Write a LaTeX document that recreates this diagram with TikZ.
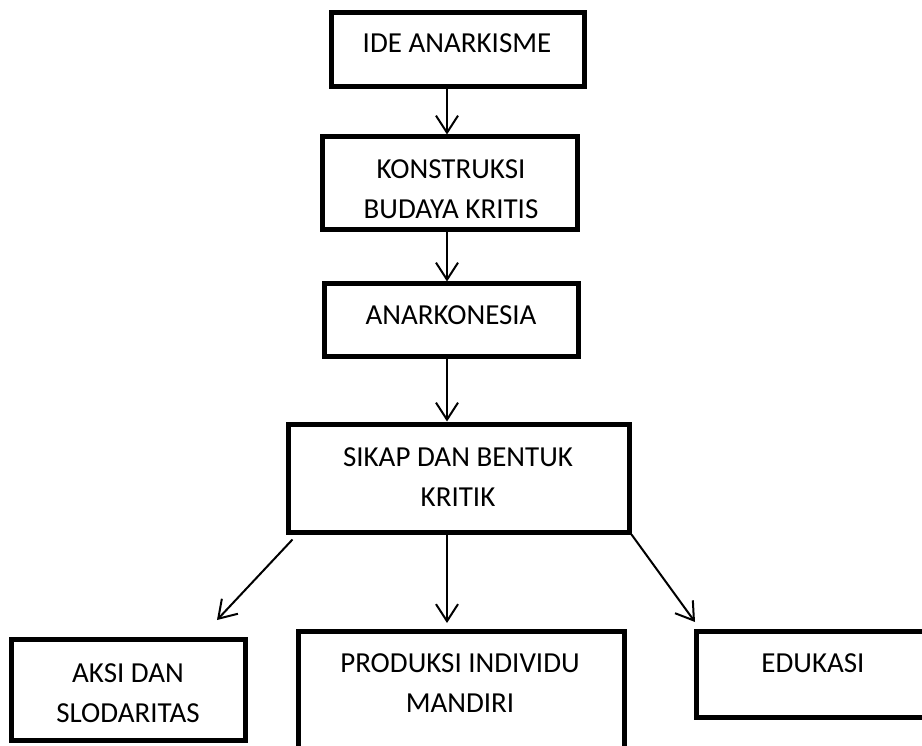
\documentclass[tikz,border=0pt]{standalone}
\usepackage{fontspec}
\setmainfont{Carlito}
\usetikzlibrary{arrows.meta,calc}
\tikzset{
  box/.style={draw=black, line width=5pt, rectangle, inner sep=0pt},
  lbl/.style={font=\fontsize{29}{40}\selectfont, align=center, anchor=base, inner sep=0pt},
  arr/.style={line width=2pt, -{Straight Barb[length=17pt, width=22pt]}}
}
\begin{document}
\begin{tikzpicture}[x=1pt, y=-1pt]
\useasboundingbox (0,0) rectangle (922,746);
\begin{scope}
\clip (0,0) rectangle (922,746);
% boxes (centerline coords)
\node[box, minimum width=253pt, minimum height=74.5pt] (b1) at (457.5,49.75) {};
\node[box, minimum width=255pt, minimum height=93pt] (b2) at (449.5,183.5) {};
\node[box, minimum width=254pt, minimum height=73pt] (b3) at (451,320.5) {};
\node[box, minimum width=341pt, minimum height=108pt] (b4) at (458.5,478) {};
\node[box, minimum width=234pt, minimum height=101pt] (b5) at (128.7,690.3) {};
\node[box, minimum width=326pt, minimum height=140pt] (b6) at (461,701) {};
\node[box, minimum width=250pt, minimum height=85.3pt] (b7) at (821.7,674.35) {};
% texts (anchor = baseline of last line)
\node[lbl] (t1) at (457,52.5) {IDE ANARKISME};
\node[lbl] (t2) at (451,219) {KONSTRUKSI\\BUDAYA KRITIS};
\node[lbl] (t3) at (451,324.5) {ANARKONESIA};
\node[lbl] (t4) at (458,506) {SIKAP DAN BENTUK\\KRITIK};
\node[lbl] (t5) at (128,722) {AKSI DAN\\SLODARITAS};
\node[lbl] (t6) at (460,712) {PRODUKSI INDIVIDU\\MANDIRI};
\node[lbl] (t7) at (813,672.5) {EDUKASI};
% connectors
\coordinate (ax) at (447,0);
\draw[arr] (b1.south -| ax) -- (b2.north -| ax);
\draw[arr] (b2.south -| ax) -- (b3.north -| ax);
\draw[arr] (b3.south -| ax) -- (b4.north -| ax);
\coordinate (lend) at (217,620);
\coordinate (mend) at (447,623);
\coordinate (rend) at (695,622);
\draw[arr] ($(b4.south west)+(7,5)$) -- (lend);
\draw[arr] (b4.south -| ax) -- (mend);
\draw[arr] (b4.south east) -- (rend);
\end{scope}
\end{tikzpicture}
\end{document}
